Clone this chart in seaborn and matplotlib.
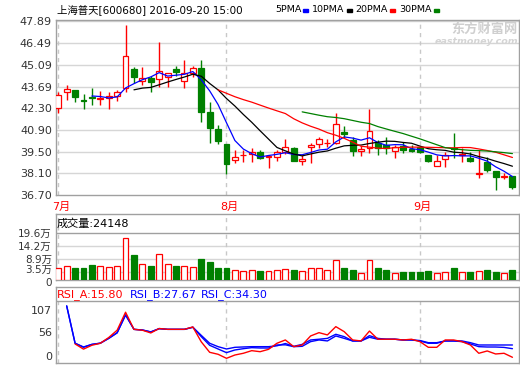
import numpy as np
import pandas as pd
import seaborn as sns
import matplotlib.pyplot as plt
from matplotlib.patches import Rectangle
from matplotlib.transforms import ScaledTranslation

# ---- data ----
title = "上海普天[600680] 2016-09-20 15:00"
months = ["7月", "8月", "9月"]
month_idx = [0, 20, 43]

opens = [42.29, 43.32, 43.45, 42.82, 43.04, 42.87, 42.94, 43.10, 43.62, 44.81,
         44.03, 44.26, 44.18, 44.29, 44.82, 44.05, 44.59, 44.87, 42.03, 40.96,
         39.99, 38.96, 39.25, 39.33, 39.50, 39.17, 39.17, 39.50, 39.71, 38.92,
         39.78, 39.99, 40.05, 40.04, 40.73, 40.25, 39.54, 39.75, 40.08, 39.93,
         39.54, 39.86, 39.65, 39.80, 39.28, 38.59, 39.01, 39.76, 39.30, 39.07,
         38.06, 38.85, 38.25, 37.85, 37.93]
highs = [43.36, 43.79, 43.50, 43.21, 43.58, 43.43, 43.36, 43.47, 47.66, 44.97,
         44.95, 44.37, 46.58, 44.59, 45.04, 45.40, 45.04, 45.40, 42.68, 41.22,
         39.99, 39.61, 39.61, 39.75, 39.61, 39.29, 39.61, 40.31, 39.82, 39.28,
         40.04, 40.42, 40.31, 41.97, 41.15, 40.46, 39.86, 42.25, 40.25, 40.46,
         39.93, 40.14, 39.95, 39.85, 39.30, 39.28, 39.45, 40.68, 39.70, 39.50,
         39.60, 39.17, 38.25, 38.10, 37.93]
lows = [41.97, 42.83, 42.72, 42.25, 42.51, 42.51, 42.23, 42.78, 43.33, 43.94,
        43.80, 43.36, 43.64, 43.64, 44.37, 43.58, 44.29, 41.43, 40.04, 40.00,
        38.04, 38.75, 38.85, 38.81, 39.03, 38.43, 38.92, 39.33, 38.92, 38.64,
        38.79, 39.72, 39.78, 39.99, 40.36, 39.24, 39.24, 39.39, 39.28, 39.35,
        39.11, 39.39, 39.45, 39.40, 38.85, 38.59, 38.50, 39.07, 38.85, 38.85,
        37.80, 38.21, 37.03, 37.72, 37.11]
closes = [43.15, 43.54, 43.00, 42.78, 42.94, 42.98, 43.09, 43.32, 45.66, 44.33,
          44.26, 43.99, 44.70, 44.55, 44.61, 44.55, 44.88, 42.03, 41.00, 40.19,
          38.70, 39.14, 39.29, 39.50, 39.11, 39.20, 39.50, 39.82, 38.92, 39.03,
          39.93, 40.30, 40.08, 41.28, 40.62, 39.56, 39.65, 40.83, 39.75, 39.72,
          39.78, 39.61, 39.55, 39.46, 38.92, 38.90, 39.26, 39.67, 39.36, 38.92,
          38.14, 38.32, 37.85, 37.93, 37.20]
# volume in 万
volumes = [5.1, 5.9, 5.2, 5.2, 6.1, 5.9, 5.5, 5.9, 17.7, 10.3,
           6.8, 5.7, 11.0, 6.8, 5.7, 5.9, 5.5, 8.6, 7.3, 4.8,
           4.8, 4.0, 3.6, 4.3, 3.6, 3.6, 4.0, 4.7, 4.0, 3.6,
           5.1, 5.1, 4.3, 8.5, 5.1, 4.0, 3.0, 8.5, 5.1, 4.0,
           3.0, 3.2, 3.2, 3.2, 3.6, 3.0, 3.5, 4.8, 3.5, 3.2,
           3.9, 4.0, 3.2, 3.0, 4.2]
rsi_a = [np.nan, np.nan, 28, 16, 25, 29.6, 43, 60, 101.8, 62,
         60, 53.6, 64, 62, 62, 62, 67.6, 33, 8.6, 4,
         -5.4, 2.3, 6.3, 12.4, 10, 15.5, 29.6, 37.3, 21.7, 25.6,
         46.6, 54.3, 49, 68.3, 56.6, 37.3, 35, 58, 39, 39,
         39, 37.3, 39, 33.4, 20.2, 20.2, 37.3, 37.3, 33.4, 25.6,
         6.3, 11.7, 4.7, 6.3, -3]
rsi_b = [np.nan, 116.5, 29.6, 20.2, 27, 29.6, 41, 54, 95.5, 62,
         60.5, 56, 63.6, 62, 62, 62, 66.9, 45, 24.9, 16.3,
         7.8, 14, 17, 19.4, 18.6, 18.6, 25.6, 26, 21.7, 22.5,
         33.4, 37.3, 35, 46.6, 41, 35, 35, 43.5, 39, 39,
         39, 37.3, 37.3, 35, 29.6, 29.6, 35, 35, 33.4, 28,
         21.7, 20.9, 20.9, 20, 17]
rsi_c = [np.nan, 116.5, 29.6, 21, 27, 30, 41, 54, 95.5, 62,
         60.5, 56, 63.6, 62, 62, 62, 66.9, 48, 29.6, 21.7,
         16.3, 20.2, 21, 21.7, 21.7, 21.7, 23.7, 29, 22.5, 27,
         37.3, 39, 41, 50.5, 45, 35, 35, 47.3, 41, 39,
         39, 37.3, 37.3, 36, 31, 31, 35, 35, 35, 31,
         25.6, 25.6, 25.6, 25.6, 25.6]

price_ticks = [36.70, 38.10, 39.50, 40.90, 42.30, 43.69, 45.09, 46.49, 47.89]
vol_ticks = [0, 3.5, 8.9, 14.2, 19.6]
vol_labels = ["0", "3.5万", "8.9万", "14.2万", "19.6万"]
rsi_ticks = [0, 56, 107]
ma_periods = [5, 10, 20, 30]

# ---- style ----
sns.set_theme(style="white")
plt.rcParams['font.family'] = ['DejaVu Sans', 'Noto Sans CJK SC']

RED, GREEN, BLUE = '#ff0000', '#008000', '#0000ff'
GRID = '#d6d6d6'
FRAME = '#a0a0a0'
TXT = '#333333'
ma_colors = [BLUE, 'black', RED, GREEN]

W, H = 520, 365
fig = plt.figure(figsize=(W / 100, H / 100), dpi=100)


def box(l, t, r, b):
    return [l / W, 1 - b / H, (r - l) / W, (b - t) / H]


ax_p = fig.add_axes(box(56, 20, 519, 195))
ax_v = fig.add_axes(box(56, 214, 519, 280))
ax_r = fig.add_axes(box(56, 287, 519, 363))

df = pd.DataFrame({'open': opens, 'high': highs, 'low': lows,
                   'close': closes, 'vol': volumes})
idx = np.arange(len(df))
up = df['close'] >= df['open']
edge = np.where(up, RED, GREEN)
fill = np.where(up, 'white', GREEN)
body_lo = np.minimum(df['open'], df['close'])
body_hi = np.maximum(df['open'], df['close'])

for ax in (ax_p, ax_v, ax_r):
    ax.set_xlim(-0.27, 54.78)
    ax.set_xticks([])
    for s in ax.spines.values():
        s.set_color(FRAME)
        s.set_linewidth(1)
    ax.tick_params(axis='y', length=0, pad=3, labelsize=8, labelcolor=TXT)

# ---- price panel ----
ax_p.set_ylim(36.70, 47.98)
ax_p.set_yticks(price_ticks)
ax_p.set_yticklabels([f"{t:.2f}" for t in price_ticks])
for t in price_ticks[1:]:
    ax_p.axhline(t, color=GRID, lw=1, zorder=0)
for m in month_idx:
    ax_p.axvline(m, color='#c8c8c8', lw=1, ls=(0, (3, 3)), zorder=0)

ax_p.vlines(idx, df['low'], body_lo, colors=edge, lw=1, zorder=2)
ax_p.vlines(idx, body_hi, df['high'], colors=edge, lw=1, zorder=2)
ax_p.bar(idx, body_hi - body_lo, bottom=body_lo, width=0.7, color=fill,
         edgecolor=edge, linewidth=0.9, zorder=3)

for n, col in zip(ma_periods, ma_colors):
    ma = df['close'].rolling(n).mean()
    sns.lineplot(x=idx, y=ma, ax=ax_p, color=col, lw=0.9, zorder=4)
ax_p.set_xlabel('')
ax_p.set_ylabel('')

for m, lab in zip(month_idx, months):
    ax_p.text(m + 0.3, 35.93, lab, color=RED, fontsize=8, ha='center',
              va='center', clip_on=False)

# ---- volume panel ----
ax_v.set_ylim(0, 19.6 * 66 / 47)
ax_v.set_yticks(vol_ticks)
ax_v.set_yticklabels(vol_labels)
ax_v.tick_params(axis='y', labelsize=7.5)
# keep the crowded bottom labels apart, as in the original
lbls = ax_v.get_yticklabels()
lbls[0].set_transform(lbls[0].get_transform() + ScaledTranslation(0, -1.5 / 72, fig.dpi_scale_trans))
lbls[1].set_transform(lbls[1].get_transform() + ScaledTranslation(0, 2 / 72, fig.dpi_scale_trans))
for t in vol_ticks[1:4]:
    ax_v.axhline(t, color=GRID, lw=1, zorder=0)
ax_v.axhline(19.6, color=FRAME, lw=1, zorder=1)
for m in month_idx:
    ax_v.axvline(m, color='#c8c8c8', lw=1, ls=(0, (3, 3)), zorder=0)
ax_v.bar(idx, df['vol'], width=0.7, color=fill, edgecolor=edge,
         linewidth=0.9, zorder=3)
ax_v.text(-0.15, 23.6, "成交量:24148", fontsize=8, color='black',
          ha='left', va='center')

# ---- RSI panel ----
ax_r.set_ylim(-16.3, 160.5)
ax_r.set_yticks(rsi_ticks)
ax_r.set_yticklabels([str(t) for t in rsi_ticks])
ax_r.axhline(127.9, color=FRAME, lw=1, zorder=1)
for m in month_idx:
    ax_r.axvline(m, ymax=0.815, color='#c8c8c8', lw=1, ls=(0, (3, 3)), zorder=0)
for vals, col in zip([rsi_c, rsi_b, rsi_a], [BLUE, BLUE, RED]):
    sns.lineplot(x=idx, y=vals, ax=ax_r, color=col, lw=1, zorder=3)
ax_r.set_xlabel('')
ax_r.set_ylabel('')
for x0, lab, col in [(-0.15, "RSI_A:15.80", RED), (8.5, "RSI_B:27.67", BLUE),
                     (16.9, "RSI_C:34.30", BLUE)]:
    ax_r.text(x0, 144, lab, fontsize=8, color=col, ha='left', va='center')

# ---- header: title, MA legend, watermark ----
fig.text(57 / W, 1 - 10 / H, title, fontsize=7.5, color='black',
         ha='left', va='center')

fig.canvas.draw()
renderer = fig.canvas.get_renderer()
x0 = 275
for n, col in zip(ma_periods, ma_colors):
    t = fig.text(x0 / W, 1 - 10 / H, f"{n}PMA", fontsize=6.8, color='black',
                 ha='left', va='center')
    x1 = t.get_window_extent(renderer).x1
    fig.add_artist(Rectangle(((x1 + 2) / W, 1 - 12 / H), 5 / W, 3 / H,
                             transform=fig.transFigure, color=col))
    x0 = x1 + 11

fig.text(518 / W, 1 - 29 / H, "东方财富网", fontsize=9.5, fontweight='bold',
         color='#cfcfcf', ha='right', va='center')
fig.text(518 / W, 1 - 42 / H, "eastmoney.com", fontsize=6.8, fontweight='bold',
         style='italic', color='#d4d4d4', ha='right', va='center')

fig.savefig("out.png", dpi=100)
